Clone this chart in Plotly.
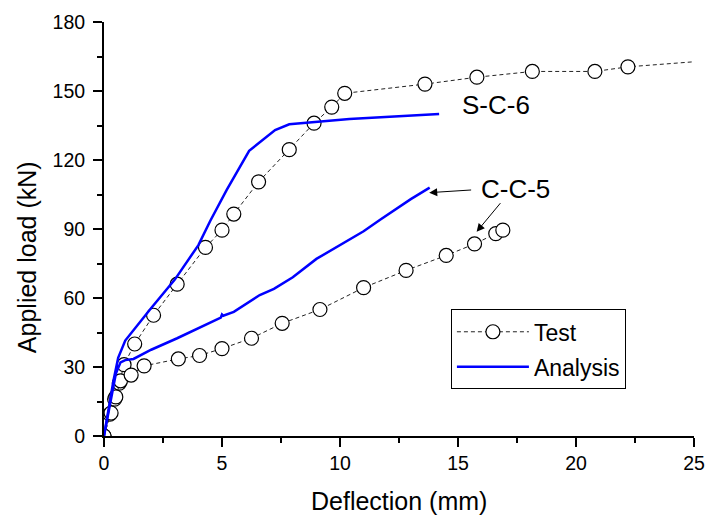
import plotly.graph_objects as go

# ---- data ----
sc6_test_x = [0.0, 0.25, 0.45, 0.65, 0.85, 1.3, 2.1, 3.1, 4.3, 5.0, 5.5, 6.55, 7.85, 8.9, 9.65, 10.2, 13.6, 15.8, 18.15, 20.8, 22.2, 26.0]
sc6_test_y = [0.0, 9.5, 16.0, 23.0, 31.0, 40.0, 52.5, 66.0, 82.0, 89.5, 96.5, 110.5, 124.5, 136.0, 143.0, 149.0, 153.0, 156.0, 158.5, 158.5, 160.5, 163.5]

cc5_test_x = [0.0, 0.3, 0.5, 0.7, 1.15, 1.7, 3.15, 4.05, 5.0, 6.25, 7.55, 9.15, 11.0, 12.8, 14.5, 15.7, 16.6, 16.9]
cc5_test_y = [0.0, 10.0, 17.0, 24.0, 26.5, 30.5, 33.5, 35.0, 38.0, 42.5, 49.0, 55.0, 64.5, 72.0, 78.5, 83.5, 88.0, 89.5]

sc6_ana_x = [0.0, 0.2, 0.4, 0.6, 0.9, 1.95, 3.0, 4.0, 4.5, 5.2, 6.15, 7.25, 7.85, 10.4, 12.5, 14.2]
sc6_ana_y = [0.0, 12.0, 24.0, 34.0, 41.5, 55.0, 68.0, 83.0, 93.5, 107.0, 124.0, 133.0, 135.5, 137.8, 139.0, 140.0]

cc5_ana_x = [0.0, 0.25, 0.5, 0.7, 0.9, 1.25, 2.0, 3.1, 4.0, 4.95, 5.0, 5.05, 5.5, 6.6, 7.2, 8.0, 9.0, 10.0, 11.0, 11.7, 12.4, 13.0, 13.8]
cc5_ana_y = [0.0, 14.0, 27.0, 32.0, 33.0, 33.5, 37.5, 42.5, 47.0, 51.5, 52.8, 52.3, 54.0, 61.3, 64.0, 69.0, 77.0, 83.0, 89.0, 94.0, 99.0, 103.0, 108.0]

x_ticks = [0, 5, 10, 15, 20, 25]
y_ticks = [0, 30, 60, 90, 120, 150, 180]

FONT = "Liberation Sans, Arial, sans-serif"

fig = go.Figure()

test_style = dict(mode="lines+markers",
                  line=dict(color="#222222", width=1, dash="4px,3px"),
                  marker=dict(symbol="circle", size=14, color="white",
                              line=dict(color="black", width=1.2)))
fig.add_trace(go.Scatter(x=sc6_test_x, y=sc6_test_y, name="Test", legendgroup="test",
                         showlegend=True, **test_style))
fig.add_trace(go.Scatter(x=cc5_test_x, y=cc5_test_y, name="Test", legendgroup="test",
                         showlegend=False, **test_style))

ana_style = dict(mode="lines", line=dict(color="#0000FF", width=2.5))
fig.add_trace(go.Scatter(x=sc6_ana_x, y=sc6_ana_y, name="Analysis", legendgroup="ana",
                         showlegend=True, **ana_style))
fig.add_trace(go.Scatter(x=cc5_ana_x, y=cc5_ana_y, name="Analysis", legendgroup="ana",
                         showlegend=False, **ana_style))

axis_common = dict(showgrid=False, zeroline=False, showline=True, linecolor="black",
                   linewidth=2, ticks="outside", ticklen=9, tickwidth=2, tickcolor="black",
                   tickfont=dict(family=FONT, size=19.5, color="black"), mirror=False,
                   automargin=False)

fig.update_xaxes(range=[0, 25], tickvals=x_ticks, ticktext=[str(v) for v in x_ticks],
                 minor=dict(tickvals=[2.5, 7.5, 12.5, 17.5, 22.5], ticklen=5, tickwidth=2,
                            tickcolor="black", ticks="outside"),
                 **axis_common)
fig.update_yaxes(range=[0, 180], tickvals=y_ticks, ticktext=[str(v) for v in y_ticks],
                 minor=dict(tickvals=[15, 45, 75, 105, 135, 165], ticklen=5, tickwidth=2,
                            tickcolor="black", ticks="outside"),
                 ticklabelstandoff=4,
                 **axis_common)

annotations = [
    dict(text="Deflection (mm)", xref="paper", yref="paper", x=0.5, y=-0.158,
         xanchor="center", yanchor="middle", showarrow=False,
         font=dict(family=FONT, size=25, color="black")),
    dict(text="Applied load (kN)", xref="paper", yref="paper", x=-0.1305, y=0.432,
         xanchor="center", yanchor="middle", textangle=-90, showarrow=False,
         font=dict(family=FONT, size=25, color="black")),
    dict(text="S-C-6", xref="x", yref="y", x=16.6, y=143.9, xanchor="center",
         yanchor="middle", showarrow=False, font=dict(family=FONT, size=26, color="black")),
    dict(text="C-C-5", xref="x", yref="y", x=17.42, y=107.4, xanchor="center",
         yanchor="middle", showarrow=False, font=dict(family=FONT, size=26, color="black")),
    dict(text="", xref="x", yref="y", axref="x", ayref="y", x=13.78, y=105.8,
         ax=15.62, ay=107.0, showarrow=True, arrowhead=2, arrowsize=1.6, arrowwidth=1,
         arrowcolor="black"),
    dict(text="", xref="x", yref="y", axref="x", ayref="y", x=15.79, y=88.8,
         ax=16.85, ay=101.9, showarrow=True, arrowhead=2, arrowsize=1.6, arrowwidth=1,
         arrowcolor="black"),
]

fig.update_layout(
    width=708, height=517,
    margin=dict(l=104, r=14, t=22, b=81, autoexpand=False),
    paper_bgcolor="white", plot_bgcolor="white",
    annotations=annotations,
    showlegend=True,
    legend=dict(x=0.588, y=0.306, xanchor="left", yanchor="top",
                bordercolor="black", borderwidth=1, bgcolor="white",
                font=dict(family=FONT, size=23, color="black"),
                tracegroupgap=2, itemwidth=72),
)

fig.write_html("out.html")
